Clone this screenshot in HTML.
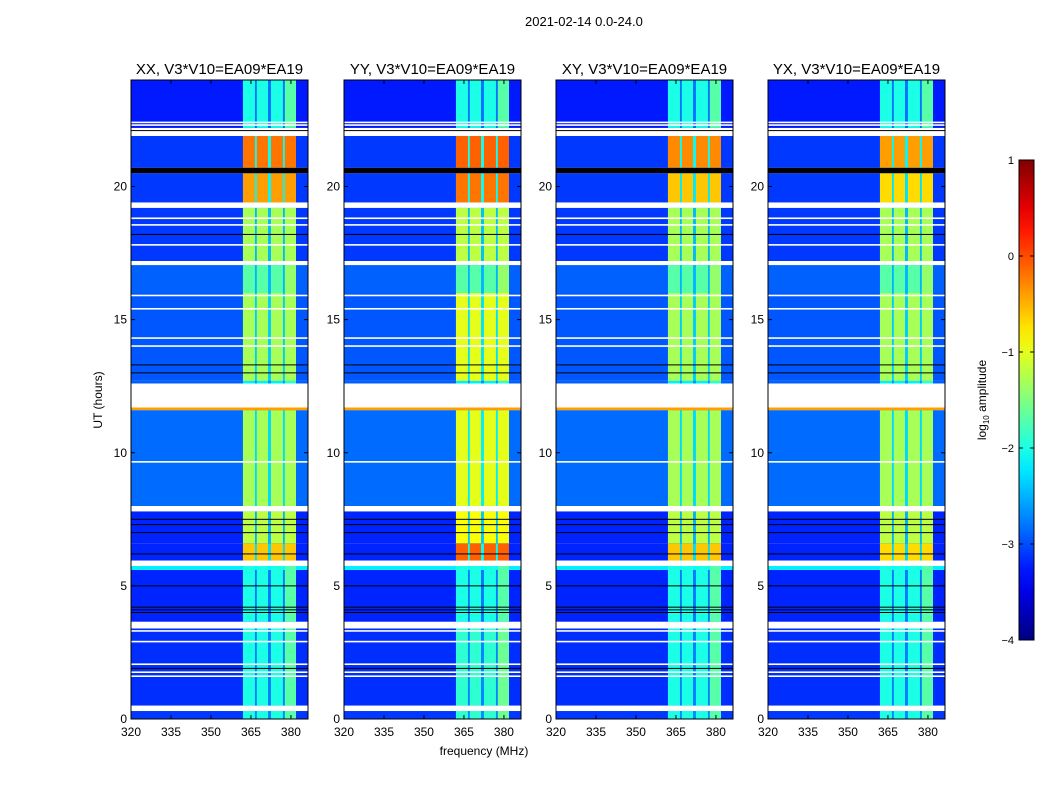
<!DOCTYPE html>
<html><head><meta charset="utf-8">
<style>
body{margin:0;background:#fff;font-family:"Liberation Sans",sans-serif;}
#fig{position:relative;width:1050px;height:800px;overflow:hidden;background:#fff}
.t{position:absolute;white-space:nowrap;color:#000}
</style></head>
<body>
<div id="fig">
<div class="t" style="left:525px;top:14px;font-size:13px">2021-02-14 0.0-24.0</div>
<svg id="svg" width="1050" height="800" style="position:absolute;left:0;top:0"></svg>
</div>
<script>
// ---- data ----
const panelTitles = ["XX, V3*V10=EA09*EA19","YY, V3*V10=EA09*EA19","XY, V3*V10=EA09*EA19","YX, V3*V10=EA09*EA19"];
const xTicks = [320,335,350,365,380];
const yTicks = [0,5,10,15,20];
const cbTicks = [1,0,-1,-2,-3,-4];
const segStart = [0,0.5,3.65,5.6,5.95,6.6,8.0,11.6,12.6,12.7,16.0,17.2,19.4,20.7,22.2];
const segEnd   = [0.3,3.4,5.6,5.75,6.6,7.8,11.6,11.7,12.7,16.0,17.05,19.2,20.5,21.9,24.0];
const segBg    = [-3.1,-3.15,-3.2,-2.2,-3.2,-3.2,-2.85,-0.4,-2.9,-2.95,-2.9,-3.1,-3.1,-3.1,-3.25];
const segBand  = [-2.0,-2.0,-2.0,-2.0,-0.6,-1.2,-1.3,-0.4,-2.2,-1.3,-1.7,-1.3,-0.4,-0.2,-2.0];
const bandBoostYY = [0.1,0.1,0,0,0.5,0.3,0.3,0,0,0.3,0,0.1,0.2,0.1,0];
const bandBoostXY = [0,0,0,0,0,0,0,0,0,0,0,0,-0.2,-0.1,0];
const bandBoostYX = [0,0,0,0,-0.1,0,0,0,0,0,0,0,-0.3,-0.2,0];
const bandLo = [362,367.2,372.5,377.7];
const bandHi = [366.5,371.4,377,381.9];
const whiteLines = [0.4,3.3,2.9,2.05,1.75,1.6,9.65,14.0,14.3,15.4,15.9,17.8,18.55,18.8,22.3,22.4,21.95,5.85,19.3,17.1,3.5];
const blackLines = [1.9,4.0,4.1,4.2,5.0,6.2,7.0,7.3,7.5,13.0,13.3,18.2,20.6,22.1];
const flagStart = [0.3,3.4,5.75,7.8,11.7,17.05,19.2,21.9,20.5];
const flagEnd   = [0.5,3.65,5.95,8.0,12.6,17.2,19.4,22.0,20.7];

// ---- helpers ----
const NS="http://www.w3.org/2000/svg";
const svg=document.getElementById('svg');
function mk(tag,attrs,parent){const e=document.createElementNS(NS,tag);for(const k in attrs)e.setAttribute(k,attrs[k]);(parent||svg).appendChild(e);return e;}
function jet(v){let t=(v+4)/5;t=Math.max(0,Math.min(1,t));
 const c=x=>Math.round(255*Math.max(0,Math.min(1,x)));
 const r=c(Math.min(4*t-1.5,-4*t+4.5)),g=c(Math.min(4*t-0.5,-4*t+3.5)),b=c(Math.min(4*t+0.5,-4*t+2.5));
 return `rgb(${r},${g},${b})`;}
const panelX=[131,344,556,768], PW=177, PT=80, PB=719;
const fMin=320,fMax=386.4,hMin=0,hMax=24;
const boosts=[null,bandBoostYY,bandBoostXY,bandBoostYX];

panelX.forEach((px,p)=>{
 const xs=f=>px+(f-fMin)/(fMax-fMin)*PW;
 const ys=h=>PB-(h-hMin)/(hMax-hMin)*(PB-PT);
 const g=mk('g',{});
 
 
 for(let i=0;i<segStart.length;i++){
  const y0=ys(segEnd[i]),y1=ys(segStart[i]);
  const bg=mk('rect',{x:px,y:y0,width:PW,height:y1-y0,fill:jet(segBg[i])},g);
  
  
  const bv=segBand[i]+(boosts[p]?boosts[p][i]:0);
  const gap=mk('rect',{x:xs(bandLo[0]),y:y0,width:xs(bandHi[3])-xs(bandLo[0]),height:y1-y0,fill:jet(segBg[i]+0.35*(bv-segBg[i]))},g);
  
  
  for(let b=0;b<bandLo.length;b++){
   const r=mk('rect',{x:xs(bandLo[b]),y:y0,width:xs(bandHi[b])-xs(bandLo[b]),height:y1-y0,fill:jet(bv+(b===3&&bv<-1.5?0.3:0))},g);
   
   
  }
 }
 for(let i=0;i<flagStart.length;i++){
  const y0=ys(flagEnd[i]),y1=ys(flagStart[i]);
  const r=mk('rect',{x:px,y:y0,width:PW,height:y1-y0,fill:flagStart[i]===20.5?'#000':'#fff'},g);
  
  
 }
 whiteLines.forEach(h=>{const r=mk('rect',{x:px,y:ys(h)-1,width:PW,height:1.6,fill:'#fff'},g);
  
  });
 blackLines.forEach(h=>{const r=mk('rect',{x:px,y:ys(h)-0.5,width:PW,height:1,fill:'#000'},g);
  
  });
 const fr=mk('rect',{x:px,y:PT,width:PW,height:PB-PT,fill:'none',stroke:'#000','stroke-width':1},g);
 
 
 const tt=mk('text',{x:px+PW/2,y:74,'text-anchor':'middle','font-size':15,'font-family':'Liberation Sans, sans-serif'},g);
 tt.textContent=panelTitles[p];
 
 
 xTicks.forEach(v=>{const x=xs(v);
  mk('line',{x1:x,x2:x,y1:PB,y2:PB-4,stroke:'#000'},g);mk('line',{x1:x,x2:x,y1:PT,y2:PT+4,stroke:'#000'},g);
  const t=mk('text',{x:x,y:PB+17,'text-anchor':'middle','font-size':12,'font-family':'Liberation Sans, sans-serif'},g);
  t.textContent=v;
  
  });
 yTicks.forEach(v=>{const y=ys(v);
  mk('line',{x1:px,x2:px+4,y1:y,y2:y,stroke:'#000'},g);mk('line',{x1:px+PW,x2:px+PW-4,y1:y,y2:y,stroke:'#000'},g);
  const t=mk('text',{x:px-4,y:y+4,'text-anchor':'end','font-size':12,'font-family':'Liberation Sans, sans-serif'},g);
  t.textContent=v;
  
  });
});
const yl=mk('text',{x:102,y:400,'text-anchor':'middle','font-size':12,transform:'rotate(-90 102 400)','font-family':'Liberation Sans, sans-serif'});
yl.textContent='UT (hours)';


const xl=mk('text',{x:484,y:755,'text-anchor':'middle','font-size':12,'font-family':'Liberation Sans, sans-serif'});
xl.textContent='frequency (MHz)';



// colorbar
const defs=mk('defs',{});
const lg=mk('linearGradient',{id:'jetg',x1:0,y1:1,x2:0,y2:0},defs);
for(let i=0;i<=20;i++){mk('stop',{offset:i/20,'stop-color':jet(-4+5*i/20)},lg);}
const cb=mk('rect',{x:1019,y:160,width:15,height:480,fill:'url(#jetg)',stroke:'#000'});


cbTicks.forEach(v=>{const y=640-(v+4)/5*480;
 mk('line',{x1:1019,x2:1023,y1:y,y2:y,stroke:'#000'});mk('line',{x1:1034,x2:1030,y1:y,y2:y,stroke:'#000'});
 const t=mk('text',{x:1014,y:y+4,'text-anchor':'end','font-size':11,'font-family':'Liberation Sans, DejaVu Sans, sans-serif'});
 t.textContent=v<0?'\u2212'+(-v):String(v);
 
 });
const cl=mk('text',{x:986,y:400,'text-anchor':'middle','font-size':12,transform:'rotate(-90 986 400)','font-family':'Liberation Sans, sans-serif'});
cl.innerHTML='log<tspan font-size="8" dy="3">10</tspan><tspan dy="-3"> amplitude</tspan>';


</script>
</body></html>
